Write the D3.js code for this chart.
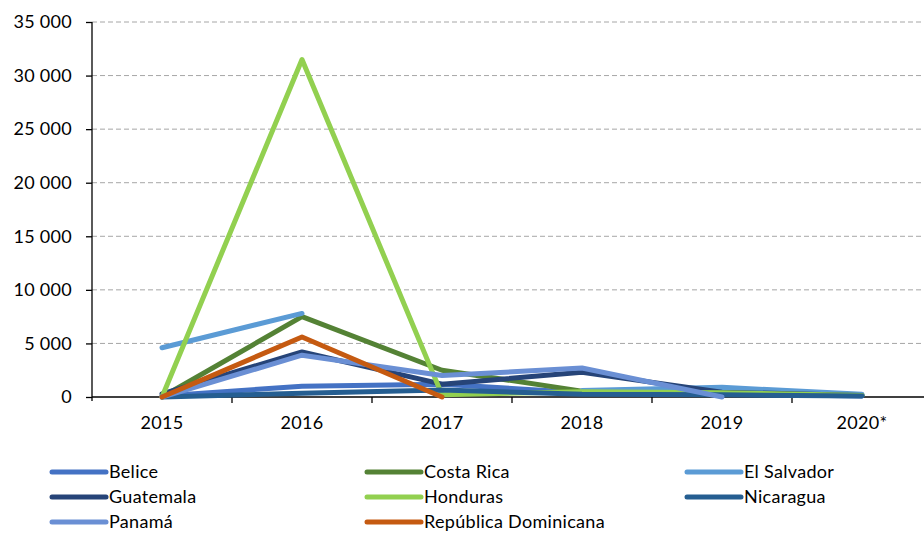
<!DOCTYPE html>
<html>
<head>
<meta charset="utf-8">
<script src="https://cdn.jsdelivr.net/npm/d3@7"></script>
<style>
  html, body { margin: 0; padding: 0; background: #fff; }
  svg { display: block; font-family: Lato, "Open Sans", sans-serif; }
</style>
</head>
<body>
<svg id="chart" width="924" height="533"></svg>
<script>
// ---- data ----
const years = ["2015", "2016", "2017", "2018", "2019", "2020*"];
const yTicks = [0, 5000, 10000, 15000, 20000, 25000, 30000, 35000];
const countries = ["Belice", "Costa Rica", "El Salvador", "Guatemala", "Honduras", "Nicaragua", "Panamá", "República Dominicana"];
const colors = ["#4472C4", "#548235", "#5B9BD5", "#264478", "#92D050", "#255E91", "#6A8FD4", "#C55A11"];
const belice = [100, 1000, 1200, 400, 300, 100];
const costaRica = [0, 7500, 2500, 550, 400, 200];
const elSalvador = [4600, 7800, null, 600, 900, 250];
const guatemala = [300, 4200, 1200, 2300, 450, 150];
const honduras = [0, 31500, 200, 500, 400, 150];
const nicaragua = [0, 350, 650, 250, 200, 100];
const panama = [0, 3900, 2000, 2700, 0, null];
const repDom = [0, 5600, 0, null, null, null];
const seriesValues = [belice, costaRica, elSalvador, guatemala, honduras, nicaragua, panama, repDom];

// ---- layout ----
const svg = d3.select("#chart");
const mLeft = 92, mRight = 932, mTop = 22, mBottom = 397;
const FS = 18;
const x = d3.scaleBand().domain(years).range([mLeft, mRight]).padding(0);
const y = d3.scaleLinear().domain([0, 35000]).range([mBottom, mTop]);
const loc = d3.formatLocale({ decimal: ",", thousands: " ", grouping: [3], currency: ["", ""] });
const fmt = loc.format(",");

// gridlines
svg.append("g").selectAll("line").data(yTicks.filter(d => d > 0)).join("line")
  .attr("x1", mLeft).attr("x2", 924)
  .attr("y1", d => y(d)).attr("y2", d => y(d))
  .attr("stroke", "#A6A6A6").attr("stroke-width", 1).attr("stroke-dasharray", "5,3");

// y axis
const yAxis = svg.append("g").attr("transform", `translate(${mLeft},0)`)
  .call(d3.axisLeft(y).tickValues(yTicks).tickFormat(fmt).tickSize(6).tickPadding(14));
yAxis.select(".domain").attr("stroke", "#000").attr("stroke-width", 1.3).attr("d", `M0,${mBottom + 4}V${mTop}`);
yAxis.selectAll(".tick line").attr("stroke", "#000").attr("stroke-width", 1.3);
yAxis.selectAll(".tick text").attr("font-size", FS).attr("fill", "#000")
  .attr("font-family", "Lato, sans-serif").attr("letter-spacing", "0.3px");

// x axis
const xAxis = svg.append("g").attr("transform", `translate(0,${mBottom})`);
xAxis.append("line").attr("x1", mLeft).attr("x2", 924).attr("y1", 0).attr("y2", 0)
  .attr("stroke", "#000").attr("stroke-width", 1.3);
xAxis.selectAll("line.tk").data(years.slice(1)).join("line").attr("class", "tk")
  .attr("x1", d => x(d)).attr("x2", d => x(d)).attr("y1", 0).attr("y2", 6)
  .attr("stroke", "#000").attr("stroke-width", 1.3);
xAxis.selectAll("text").data(years).join("text")
  .attr("x", d => x(d) + x.bandwidth() / 2).attr("y", 32)
  .attr("text-anchor", "middle").attr("font-size", FS).attr("fill", "#000")
  .attr("letter-spacing", "0.3px")
  .text(d => d);

// lines
const line = d3.line()
  .defined(d => d != null)
  .x((d, i) => x(years[i]) + x.bandwidth() / 2)
  .y(d => y(d));
svg.append("g").selectAll("path").data(seriesValues).join("path")
  .attr("d", d => line(d))
  .attr("fill", "none")
  .attr("stroke", (d, i) => colors[i])
  .attr("stroke-width", 5)
  .attr("stroke-linejoin", "round")
  .attr("stroke-linecap", "round");

// legend
const colX = [52, 367, 687];
const rowY = [472, 497, 522];
const leg = svg.append("g").selectAll("g").data(countries).join("g")
  .attr("transform", (d, i) => `translate(${colX[i % 3]},${rowY[Math.floor(i / 3)]})`);
leg.append("line").attr("x1", 0).attr("x2", 54).attr("y1", 0).attr("y2", 0)
  .attr("stroke", (d, i) => colors[i]).attr("stroke-width", 5).attr("stroke-linecap", "round");
leg.append("text").attr("x", 57).attr("y", 6).attr("font-size", FS).attr("fill", "#000")
  .attr("letter-spacing", "0.3px")
  .text(d => d);
</script>
</body>
</html>
